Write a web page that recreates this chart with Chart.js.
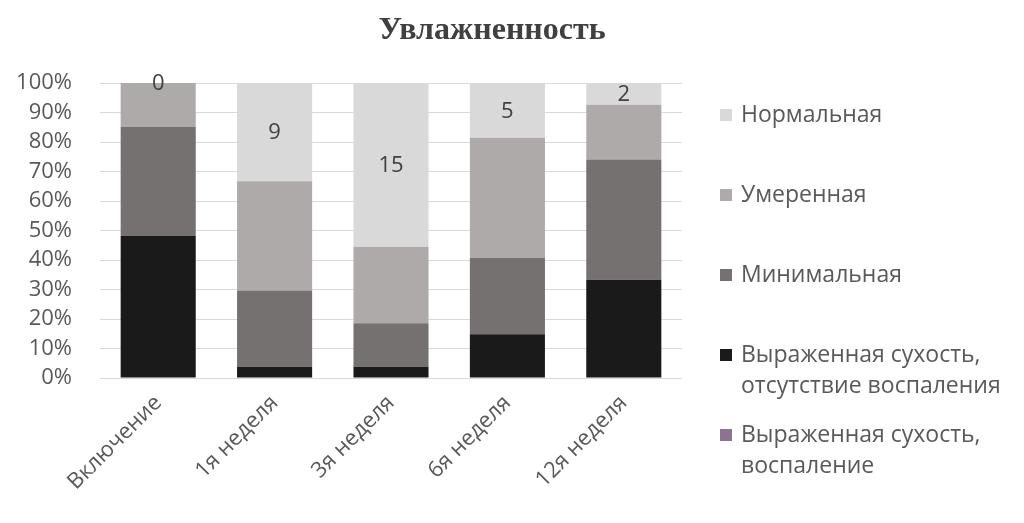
<!DOCTYPE html>
<html>
<head>
<meta charset="utf-8">
<script src="https://cdn.jsdelivr.net/npm/chart.js@4.4.0/dist/chart.umd.min.js"></script>
<style>
html,body{margin:0;padding:0;background:#fff;}
#wrap{width:1024px;height:523px;}
</style>
</head>
<body>
<div id="wrap"><canvas id="c" width="1024" height="523"></canvas></div>
<script>
// ---- data ----
const categories = ['Включение', '1я неделя', '3я неделя', '6я неделя', '12я неделя'];
const seriesNames = [
  'Выраженная сухость, воспаление',
  'Выраженная сухость, отсутствие воспаления',
  'Минимальная',
  'Умеренная',
  'Нормальная'
];
const inflamed   = [0, 0, 0, 0, 0];
const severeDry  = [13, 1, 1, 4, 9];
const minimal    = [10, 7, 4, 7, 11];
const moderate   = [4, 10, 7, 11, 5];
const normal     = [0, 9, 15, 5, 2];
const yTicks = [0, 10, 20, 30, 40, 50, 60, 70, 80, 90, 100];
const chartTitle = 'Увлажненность';

const seriesColors = ['#8e7391', '#1a1a1a', '#767171', '#aeaaaa', '#d9d9d9'];
const counts = [inflamed, severeDry, minimal, moderate, normal];
const totals = categories.map((_, i) => counts.reduce((s, a) => s + a[i], 0));
const pct = arr => arr.map((v, i) => totals[i] ? v / totals[i] * 100 : 0);

const FONT = '"Open Sans", "Liberation Sans", sans-serif';

const titlePlugin = {
  id: 'customTitle',
  afterDraw(chart) {
    const ctx = chart.ctx;
    ctx.save();
    ctx.font = 'bold 32px "Liberation Serif", "DejaVu Serif", serif';
    ctx.fillStyle = '#404040';
    ctx.textAlign = 'center';
    ctx.textBaseline = 'middle';
    ctx.fillText(chartTitle, 492, 31);
    ctx.restore();
  }
};

const labelPlugin = {
  id: 'normalLabels',
  afterDatasetsDraw(chart) {
    const ctx = chart.ctx;
    const idx = chart.data.datasets.length - 1;
    const meta = chart.getDatasetMeta(idx);
    ctx.save();
    ctx.font = '22px ' + FONT;
    ctx.fillStyle = '#404040';
    ctx.textAlign = 'center';
    ctx.textBaseline = 'middle';
    meta.data.forEach((el, i) => {
      const y = (el.y + el.base) / 2;
      ctx.fillText(String(normal[i]), el.x, y + 1);
    });
    ctx.restore();
  }
};

const legendPlugin = {
  id: 'customLegend',
  afterDraw(chart) {
    const ctx = chart.ctx;
    const ds = chart.data.datasets.slice().reverse();
    ctx.save();
    ctx.font = '23px ' + FONT;
    ctx.textBaseline = 'middle';
    ctx.textAlign = 'left';
    const x0 = 720, y0 = 115, step = 80, lh = 31;
    ds.forEach((d, k) => {
      const y = y0 + k * step;
      ctx.fillStyle = d.backgroundColor;
      ctx.fillRect(x0, y - 6, 12, 12);
      ctx.fillStyle = '#595959';
      const lines = d.label.split(/(?<=,) /);
      lines.forEach((ln, j) => ctx.fillText(ln, x0 + 21, y + j * lh));
    });
    ctx.restore();
  }
};

new Chart(document.getElementById('c'), {
  type: 'bar',
  data: {
    labels: categories,
    datasets: counts.map((arr, k) => ({
      label: seriesNames[k],
      data: pct(arr),
      backgroundColor: seriesColors[k],
      borderWidth: 0,
      categoryPercentage: 1,
      barPercentage: 0.645
    }))
  },
  options: {
    responsive: false,
    animation: false,
    devicePixelRatio: 1,
    layout: { padding: { top: 83, right: 342, left: 0, bottom: 0 } },
    plugins: {
      legend: { display: false },
      title: { display: false },
      tooltip: { enabled: false }
    },
    scales: {
      x: {
        stacked: true,
        grid: { display: false },
        border: { display: false },
        ticks: {
          color: '#595959',
          font: { size: 22, family: FONT },
          maxRotation: 45,
          minRotation: 45,
          autoSkip: false,
          padding: 4
        },
        afterFit(s) { s.height = 145; }
      },
      y: {
        stacked: true,
        min: 0,
        max: 100,
        afterBuildTicks(s) { s.ticks = yTicks.map(v => ({ value: v })); },
        grid: { color: '#d9d9d9', lineWidth: 1, drawTicks: false },
        border: { display: false },
        ticks: {
          color: '#595959',
          font: { size: 22, family: FONT },
          padding: 28,
          autoSkip: false,
          callback: v => v + '%'
        },
        afterFit(s) { s.width = 100; }
      }
    }
  },
  plugins: [titlePlugin, labelPlugin, legendPlugin]
});
</script>
</body>
</html>
